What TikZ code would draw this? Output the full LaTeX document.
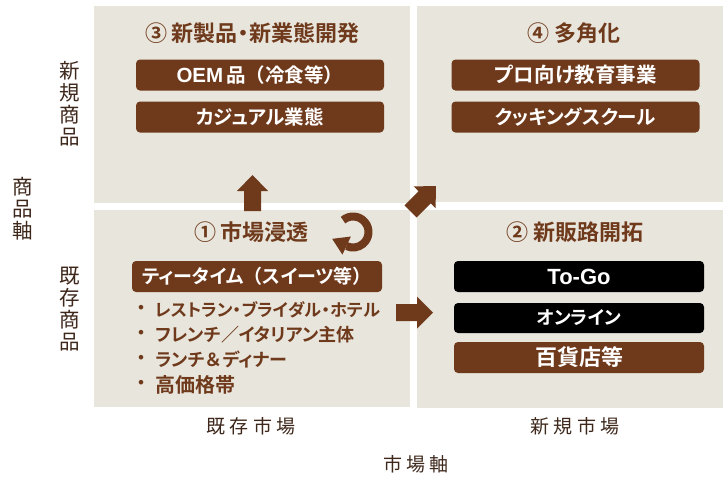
\documentclass[tikz,border=0pt]{standalone}
\usepackage{fontspec}
\setmainfont{Noto Sans CJK JP}[BoldFont={* Bold}, RawFeature=+palt]
\newfontfamily\fwfont{Noto Sans CJK JP}[BoldFont={* Bold}]
\newfontfamily\latfont{Liberation Sans}
\usetikzlibrary{arrows.meta}
\definecolor{bgc}{RGB}{232,229,220}
\definecolor{brn}{RGB}{111,58,28}
\definecolor{axc}{RGB}{62,40,28}
\newcommand\mybfont{\bfseries\fontsize{19.5}{21}\selectfont}
\newcommand\myttlfont{\fwfont\bfseries\fontsize{22}{24}\selectfont}
\newcommand\myitmfont{\bfseries\fontsize{18}{20}\selectfont}
\newcommand\myaxfont{\fontsize{19}{21}\selectfont\addfontfeature{LetterSpace=22}}
\newcommand\myvaxfont{\fontsize{20.5}{22}\selectfont}
\newcommand\fw[1]{{\fwfont\bfseries #1}}
\newcommand\pd{{\rmfamily\bfseries ・}}
\begin{document}
\begin{tikzpicture}[x=1pt,y=-1pt,
  quad/.style={fill=bgc,draw=none,inner sep=0pt,anchor=north west},
  tbox/.style={fill=brn,rounded corners=4pt,text=white,font=\mybfont,minimum height=31pt,minimum width=248pt,inner sep=0pt},
  kbox/.style={tbox,fill=black},
  ttl/.style={text=brn,font=\myttlfont,inner sep=0pt},
  itm/.style={text=brn,font=\myitmfont,anchor=west,inner sep=0pt},
  bul/.style={text=brn,font=\myitmfont,inner sep=0pt},
  axl/.style={text=axc,font=\myaxfont,inner sep=0pt},
  vax/.style={text=axc,font=\myvaxfont,align=center,inner sep=0pt},
  blk/.style={fill=brn,draw=none}]
\useasboundingbox (0,0) rectangle (723,477);
% quadrants
\node[quad,minimum width=316pt,minimum height=197pt] (q3) at (94,6) {};
\node[quad,minimum width=306pt,minimum height=196pt] (q4) at (417,6) {};
\node[quad,minimum width=316pt,minimum height=197pt] (q1) at (94,210) {};
\node[quad,minimum width=306pt,minimum height=198pt] (q2) at (417,210) {};
% titles
\node[ttl] (t3) at (252,33) {③ 新製品\pd 新業態開発};
\node[ttl] (t4) at (574,33) {④ 多角化};
\node[ttl] (t1) at (251.5,232) {① 市場浸透};
\node[ttl] (t2) at (575,232) {② 新販路開拓};
% boxes
\node[tbox] (b31) at (260,75) {{\latfont\bfseries\fontsize{20.5}{21}\selectfont OEM}\,品\fw{（}冷食等\fw{）}};
\node[tbox] (b32) at (260,117) {カジュアル業態};
\node[tbox] (b41) at (575.5,75) {\fontsize{20.5}{21}\selectfont プロ向け教育事業};
\node[tbox] (b42) at (575.5,117) {クッキングスクール};
\node[tbox,minimum width=250pt] (b11) at (257,276.5) {\fontsize{19}{21}\selectfont ティータイム\fw{（}スイーツ等\fw{）}};
\node[kbox,minimum width=250pt] (b21) at (579,276.5) {\latfont\bfseries\fontsize{22}{24}\selectfont To-Go};
\node[kbox,minimum width=250pt,minimum height=30pt] (b22) at (579,318) {\fontsize{18.5}{20}\selectfont オンライン};
\node[tbox,minimum width=250pt] (b23) at (579,357.5) {\fontsize{22}{24}\selectfont 百貨店等};
% bullet list
\node[bul] (d1) at (141,310) {・};
\node[bul] (d2) at (141,335) {・};
\node[bul] (d3) at (141,359.5) {・};
\node[bul] (d4) at (141,384.5) {・};
\node[itm] (i1) at (155,310) {\fontsize{17.2}{20}\selectfont レストラン・ブライダル・ホテル};
\node[itm] (i2) at (155,335) {フレンチ／イタリアン主体};
\node[itm] (i3) at (155,359.5) {ランチ\fw{＆}ディナー};
\node[itm] (i4) at (155,384.5) {\fontsize{20}{22}\selectfont 高価格帯};
% axis labels
\node[vax] (vn) at (70,104) {新\\規\\商\\品};
\node[vax] (vk) at (70,309) {既\\存\\商\\品};
\node[vax] (va) at (23,208.5) {商\\品\\軸};
\node[axl] (hk) at (251,426) {既存市場};
\node[axl] (hn) at (575,426) {新規市場};
\node[axl] (ha) at (416,464) {市場軸};
% block arrows
\fill[blk,shift={(252.5,211)},rotate=90] (0,-8.5) -- (20,-8.5) -- (20,-15.5) -- (36,0) -- (20,15.5) -- (20,8.5) -- (0,8.5) -- cycle;
\fill[blk,shift={(396,312.5)}] (0,-8.5) -- (21,-8.5) -- (21,-16) -- (37,0) -- (21,16) -- (21,8.5) -- (0,8.5) -- cycle;
\fill[blk,shift={(410.5,211.5)},rotate=45] (0,-8.5) -- (20,-8.5) -- (20,-15.5) -- (36,0) -- (20,15.5) -- (20,8.5) -- (0,8.5) -- cycle;
% circular arrow
\coordinate (cc) at (353,232);
\draw[brn,line width=8pt] (cc) ++(130:15.5pt) arc[start angle=130,end angle=-115,radius=15.5pt];
\fill[blk,shift={(353,232)}] (-2.11pt,-4.53pt) -- (-10.57pt,-22.66pt) -- (-20.84pt,-6.83pt) -- cycle;
\end{tikzpicture}
\end{document}
